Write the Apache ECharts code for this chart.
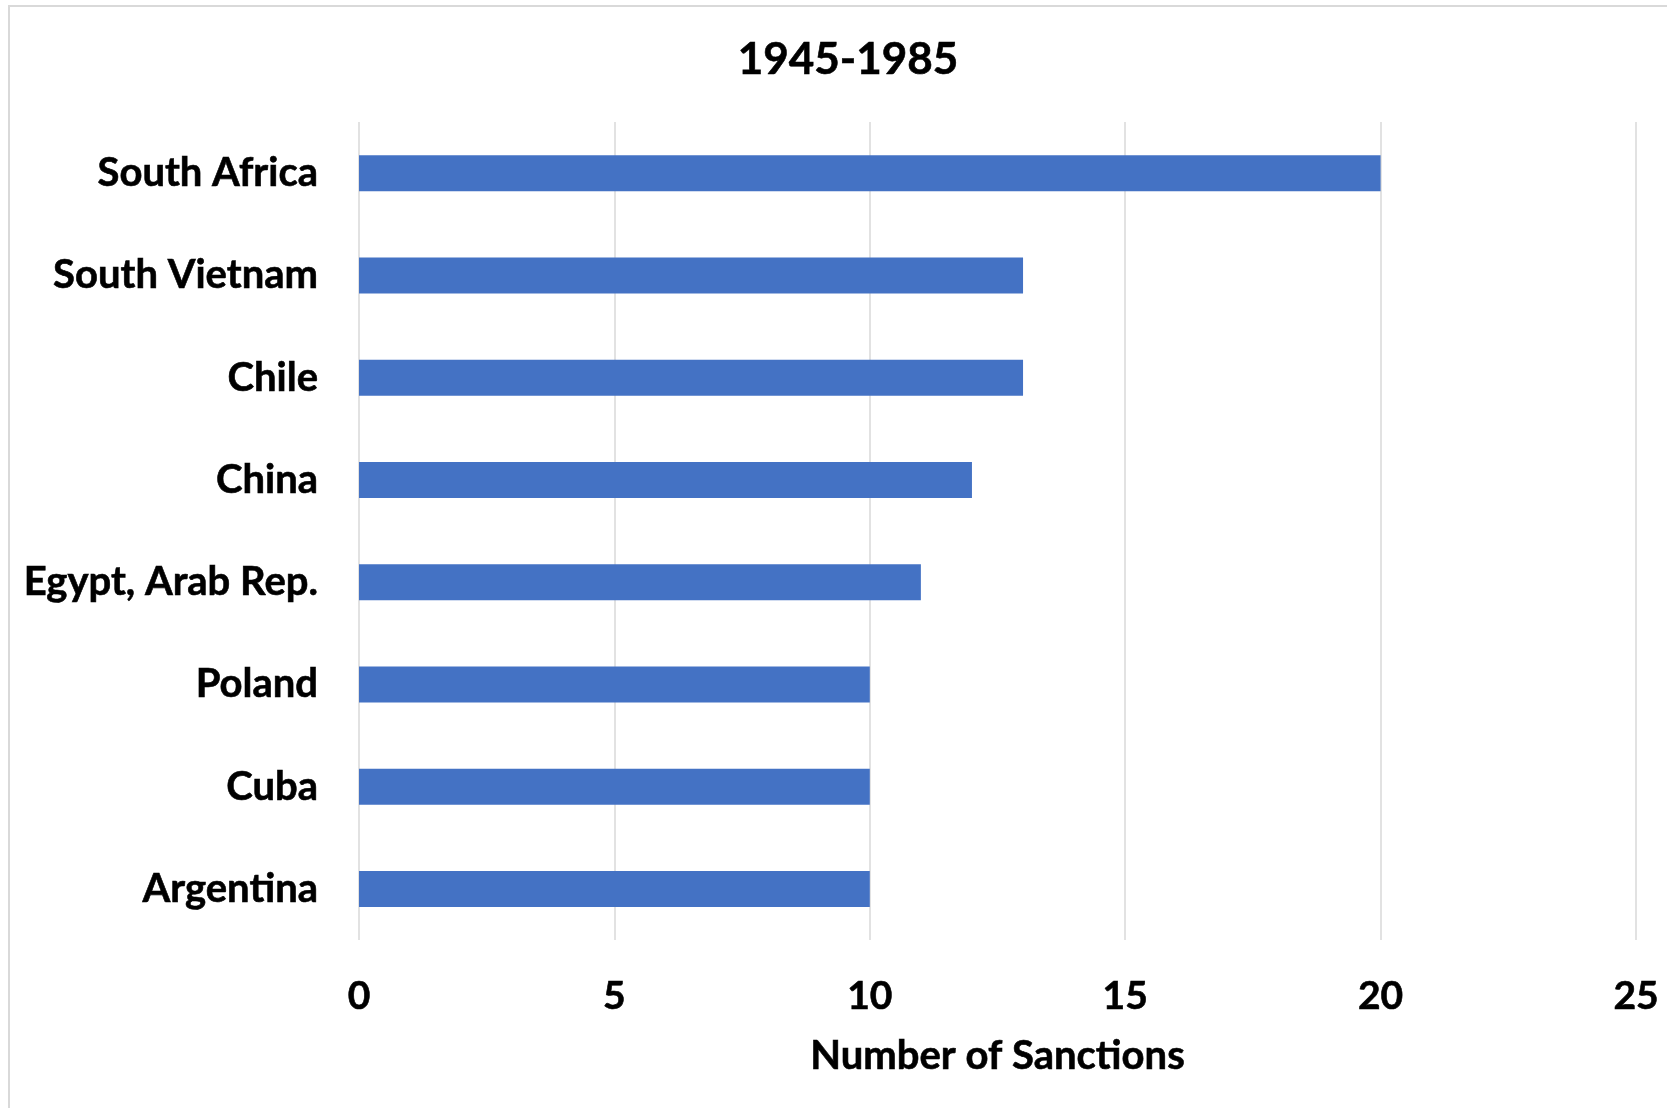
<!DOCTYPE html>
<html>
<head>
<meta charset="utf-8">
<script src="https://cdn.jsdelivr.net/npm/echarts@6/dist/echarts.min.js"></script>
<style>
  html, body { margin: 0; padding: 0; background: #fff; }
  #chart { width: 1667px; height: 1108px; }
</style>
</head>
<body>
<div id="chart"></div>
<script>
"use strict";

//
// Data
//
const countries = [
  "South Africa",
  "South Vietnam",
  "Chile",
  "China",
  "Egypt, Arab Rep.",
  "Poland",
  "Cuba",
  "Argentina",
];
const sanctions = [20, 13, 13, 12, 11, 10, 10, 10];
const x_ticks = [0, 5, 10, 15, 20, 25];

const font = "Lato, 'Open Sans', sans-serif";
// slightly heavier strokes, closer to the original bold face
const heavy = { textBorderColor: "#000", textBorderWidth: 0.6 };

//
// Chart
//
const chart = echarts.init(document.getElementById("chart"));
chart.setOption({
  animation: false,
  title: {
    text: "1945-1985",
    left: 843,
    top: 55,
    textAlign: "center",
    textVerticalAlign: "middle",
    textStyle: { fontFamily: font, fontWeight: "bold", fontSize: 44, color: "#000", ...heavy },
  },
  graphic: [
    {
      type: "rect",
      shape: { x: 9, y: 6, width: 1700, height: 1200 },
      style: { fill: "none", stroke: "#d9d9d9", lineWidth: 2 },
      silent: true,
    },
  ],
  grid: { left: 359, right: 31, top: 122, bottom: 168 },
  xAxis: {
    type: "value",
    min: x_ticks[0],
    max: x_ticks[x_ticks.length - 1],
    interval: 5,
    axisLine: { show: false },
    axisTick: { show: false },
    splitLine: { lineStyle: { color: "#d9d9d9", width: 1.5 } },
    axisLabel: {
      margin: 37,
      fontFamily: font,
      fontWeight: "bold",
      fontSize: 39,
      color: "#000",
      ...heavy,
    },
    name: "Number of Sanctions",
    nameLocation: "middle",
    nameGap: 96,
    nameTextStyle: {
      fontFamily: font,
      fontWeight: "bold",
      fontSize: 40,
      color: "#000",
      ...heavy,
    },
  },
  yAxis: {
    type: "category",
    inverse: true,
    data: countries,
    axisLine: { show: false },
    axisTick: { show: false },
    splitLine: { show: false },
    axisLabel: {
      margin: 41,
      fontFamily: font,
      fontWeight: "bold",
      fontSize: 40,
      color: "#000",
      ...heavy,
    },
  },
  series: [
    {
      type: "bar",
      data: sanctions,
      barWidth: 36,
      itemStyle: { color: "#4472c4" },
    },
  ],
});
</script>
</body>
</html>
